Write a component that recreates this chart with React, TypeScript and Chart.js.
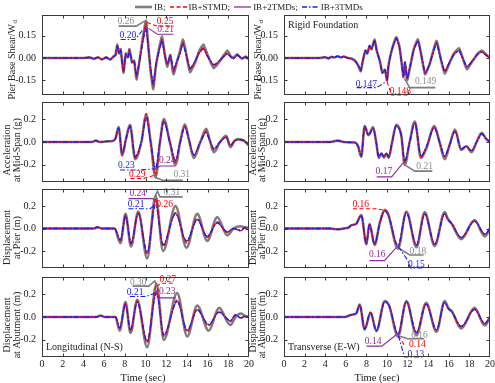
import React, { useEffect, useRef } from 'react';
import { Chart, registerables } from 'chart.js';
Chart.register(...registerables);

// ---------------- data ----------------
const SERIES_NAMES = ['IB', 'IB+STMD', 'IB+2TMDs', 'IB+3TMDs'];
const TIME_TICKS = [0, 2, 4, 6, 8, 10, 12, 14, 16, 18, 20];
const SHEAR_TICKS = [-0.15, 0, 0.15];
const RESP_TICKS = [-0.2, 0, 0.2];

// Longitudinal: pier base shear
const L1_T = [0, 4.0, 4.6, 5.0, 5.4, 5.8, 6.2, 6.6, 6.9, 7.1, 7.27, 7.45, 7.6, 7.87, 8.1, 8.3, 8.45, 8.7, 8.9, 9.13, 9.4, 9.75, 10.05, 10.3, 10.5, 10.75, 11.0, 11.3, 11.6, 11.85, 12.1, 12.4, 12.7, 13.1, 13.35, 13.6, 13.85, 14.3, 14.8, 15.2, 15.6, 16.0, 16.6, 17.2, 17.9, 18.2, 18.5, 18.86, 19.3, 19.7, 20];
const L1_IB = [0, 0, 0.004, -0.006, 0.005, -0.01, 0.004, -0.012, 0.01, 0.02, 0.09, 0.03, 0.06, -0.1, 0.03, 0.005, 0.06, -0.03, -0.02, -0.145, -0.03, 0.14, 0.25, 0.06, -0.09, -0.21, -0.06, 0.06, 0.145, 0.03, -0.06, 0.02, -0.11, -0.01, 0.05, 0.125, 0.06, -0.095, -0.03, 0.05, 0.09, 0.02, -0.07, -0.02, 0.05, 0.015, 0.0, 0.025, -0.005, 0.01, -0.01];
const L1_STMD = [0, 0, 0.003, -0.005, 0.004, -0.009, 0.004, -0.011, 0.009, 0.02, 0.085, 0.03, 0.055, -0.095, 0.03, 0.005, 0.055, -0.03, -0.02, -0.135, -0.03, 0.13, 0.24, 0.05, -0.09, -0.195, -0.05, 0.05, 0.13, 0.03, -0.05, 0.02, -0.095, -0.01, 0.04, 0.11, 0.05, -0.08, -0.025, 0.04, 0.07, 0.015, -0.055, -0.015, 0.035, 0.01, -0.005, 0.02, -0.005, 0.01, -0.01];
const L1_2TMD = [0, 0, 0.003, -0.005, 0.004, -0.008, 0.003, -0.01, 0.008, 0.018, 0.08, 0.03, 0.05, -0.09, 0.025, 0.005, 0.05, -0.03, -0.02, -0.125, -0.03, 0.12, 0.21, 0.05, -0.08, -0.18, -0.05, 0.05, 0.12, 0.025, -0.045, 0.015, -0.085, -0.01, 0.035, 0.1, 0.045, -0.075, -0.02, 0.035, 0.065, 0.01, -0.05, -0.015, 0.03, 0.01, -0.005, 0.02, -0.003, 0.008, -0.008];
const L1_3TMD = [0, 0, 0.003, -0.005, 0.004, -0.008, 0.003, -0.01, 0.008, 0.018, 0.08, 0.03, 0.05, -0.085, 0.025, 0.005, 0.05, -0.025, -0.02, -0.12, -0.025, 0.115, 0.2, 0.05, -0.075, -0.175, -0.045, 0.045, 0.115, 0.025, -0.04, 0.015, -0.08, -0.01, 0.035, 0.095, 0.045, -0.07, -0.02, 0.035, 0.06, 0.01, -0.045, -0.015, 0.03, 0.01, -0.005, 0.02, -0.003, 0.008, -0.008];

// Longitudinal: acceleration at mid-span
const L2_T = [0, 4.8, 5.2, 5.6, 6.2, 6.8, 7.1, 7.4, 7.75, 8.1, 8.5, 9.0, 9.6, 10.07, 10.5, 10.97, 11.4, 11.77, 12.35, 12.9, 13.35, 13.8, 14.2, 14.67, 15.3, 15.86, 16.2, 16.6, 17.2, 17.8, 18.2, 18.6, 19.0, 19.5, 20];
const L2_IB = [0, 0, 0.012, 0, 0.005, 0.008, 0.03, 0.13, -0.12, 0.02, 0.15, -0.15, 0.0, 0.24, 0.0, -0.31, 0.0, 0.2, 0.0, -0.2, 0.0, 0.155, 0.02, -0.14, 0.0, 0.115, 0.02, -0.09, 0.0, 0.055, -0.045, 0.01, 0.025, 0.01, -0.03];
const L2_STMD = [0, 0, 0.012, 0, 0.005, 0.008, 0.03, 0.125, -0.11, 0.02, 0.145, -0.14, 0.0, 0.25, 0.0, -0.29, 0.0, 0.19, 0.0, -0.18, 0.0, 0.14, 0.02, -0.12, 0.0, 0.095, 0.015, -0.07, 0.0, 0.045, -0.035, 0.01, 0.02, 0.015, -0.035];
const L2_2TMD = [0, 0, 0.012, 0, 0.005, 0.008, 0.03, 0.12, -0.1, 0.02, 0.14, -0.13, 0.0, 0.22, 0.0, -0.24, 0.0, 0.18, 0.0, -0.165, 0.0, 0.13, 0.02, -0.115, 0.0, 0.085, 0.015, -0.06, 0.0, 0.04, -0.03, 0.01, 0.02, 0.015, -0.03];
const L2_3TMD = [0, 0, 0.012, 0, 0.005, 0.008, 0.03, 0.12, -0.1, 0.02, 0.135, -0.125, 0.0, 0.21, 0.0, -0.23, 0.0, 0.18, 0.0, -0.16, 0.0, 0.125, 0.02, -0.11, 0.0, 0.08, 0.015, -0.055, 0.0, 0.04, -0.03, 0.01, 0.02, 0.015, -0.03];

// Longitudinal: displacement at pier
const L3_T = [0, 5.0, 5.35, 5.8, 6.5, 7.0, 7.58, 8.07, 8.6, 9.3, 10.16, 10.97, 11.7, 12.9, 13.96, 15.0, 15.96, 16.93, 17.9, 18.5, 19.2, 19.6, 20];
const L3_IB = [0, 0, 0.012, 0, 0, 0.0, -0.13, 0.13, -0.16, 0.15, -0.265, 0.29, -0.2, 0.2, -0.17, 0.13, -0.11, 0.1, -0.06, 0.0, 0.02, 0.01, 0.005];
const L3_STMD = [0, 0, 0.012, 0, 0, 0.0, -0.11, 0.12, -0.14, 0.14, -0.23, 0.26, -0.16, 0.14, -0.13, 0.09, -0.08, 0.06, -0.035, 0.0, -0.015, 0.01, 0.005];
const L3_2TMD = [0, 0, 0.012, 0, 0, 0.0, -0.105, 0.115, -0.135, 0.135, -0.22, 0.24, -0.15, 0.135, -0.115, 0.08, -0.07, 0.05, -0.03, 0.0, -0.02, 0.005, 0.005];
const L3_3TMD = [0, 0, 0.012, 0, 0, 0.0, -0.1, 0.11, -0.13, 0.13, -0.21, 0.21, -0.14, 0.13, -0.11, 0.075, -0.07, 0.05, -0.03, 0.0, -0.02, 0.005, 0.005];

// Longitudinal: displacement at abutment
const L4_T = [0, 5.2, 5.65, 6.1, 6.8, 7.1, 7.5, 8.07, 8.55, 9.2, 10.16, 11.06, 11.77, 13.06, 14.03, 15.0, 16.1, 17.1, 18.2, 18.7, 19.2, 19.6, 20];
const L4_IB = [0, 0, 0.012, 0, 0, 0.0, -0.12, 0.13, -0.14, 0.15, -0.265, 0.29, -0.2, 0.21, -0.17, 0.1, -0.12, 0.08, -0.07, 0.0, 0.03, 0.01, 0.0];
const L4_STMD = [0, 0, 0.012, 0, 0, 0.0, -0.1, 0.12, -0.12, 0.14, -0.22, 0.27, -0.17, 0.15, -0.13, 0.07, -0.075, 0.05, -0.04, 0.015, -0.005, 0.005, 0.0];
const L4_2TMD = [0, 0, 0.012, 0, 0, 0.0, -0.1, 0.115, -0.12, 0.135, -0.22, 0.23, -0.16, 0.14, -0.12, 0.065, -0.07, 0.045, -0.035, 0.02, -0.01, 0.005, 0.005];
const L4_3TMD = [0, 0, 0.012, 0, 0, 0.0, -0.095, 0.11, -0.115, 0.13, -0.21, 0.21, -0.155, 0.135, -0.115, 0.06, -0.065, 0.04, -0.03, 0.02, -0.01, 0.005, 0.005];

// Transverse: pier base shear (rigid foundation)
const R1_T = [0, 3.5, 4.0, 4.3, 4.6, 4.9, 5.2, 5.5, 5.8, 6.2, 6.6, 6.9, 7.2, 7.45, 7.65, 7.9, 8.1, 8.3, 8.5, 8.8, 9.0, 9.3, 9.55, 9.8, 10.0, 10.15, 10.45, 10.9, 11.2, 11.45, 11.6, 11.75, 11.95, 12.3, 12.6, 13.0, 13.3, 13.7, 14.1, 14.8, 15.2, 15.6, 16.1, 16.5, 17.0, 17.75, 18.3, 18.8, 19.2, 19.6, 20];
const R1_IB = [0, 0, 0.005, -0.003, 0.008, 0.003, 0.012, 0.004, 0.01, 0.0, -0.005, -0.02, -0.05, -0.09, -0.02, 0.05, 0.03, 0.08, 0.06, 0.125, 0.05, -0.02, -0.1, -0.08, -0.15, -0.05, 0.05, 0.14, 0.08, -0.05, -0.13, -0.03, -0.15, -0.04, 0.06, 0.125, 0.03, -0.11, -0.05, 0.115, 0.0, -0.105, -0.03, 0.03, 0.065, -0.075, -0.02, 0.03, 0.05, 0.025, 0.0];
const R1_STMD = [0, 0, 0.005, -0.003, 0.008, 0.003, 0.012, 0.004, 0.01, 0.0, -0.005, -0.02, -0.05, -0.085, -0.02, 0.05, 0.03, 0.08, 0.06, 0.12, 0.05, -0.02, -0.1, -0.08, -0.155, -0.05, 0.05, 0.135, 0.075, -0.05, -0.125, -0.03, -0.14, -0.04, 0.055, 0.115, 0.03, -0.1, -0.05, 0.105, 0.0, -0.095, -0.025, 0.025, 0.055, -0.06, -0.02, 0.025, 0.045, 0.02, 0.0];
const R1_2TMD = [0, 0, 0.005, -0.004, 0.008, 0.002, 0.012, 0.003, 0.01, -0.001, -0.006, -0.02, -0.05, -0.085, -0.02, 0.05, 0.03, 0.082, 0.06, 0.12, 0.05, -0.02, -0.1, -0.08, -0.15, -0.05, 0.05, 0.135, 0.075, -0.05, -0.125, -0.03, -0.14, -0.04, 0.055, 0.115, 0.03, -0.1, -0.05, 0.1, 0.0, -0.09, -0.025, 0.025, 0.05, -0.06, -0.02, 0.025, 0.04, 0.02, 0.0];
const R1_3TMD = [0, 0, 0.006, -0.004, 0.009, 0.002, 0.013, 0.003, 0.011, -0.002, -0.006, -0.02, -0.05, -0.085, -0.02, 0.05, 0.03, 0.085, 0.06, 0.12, 0.05, -0.02, -0.1, -0.08, -0.147, -0.05, 0.05, 0.135, 0.075, -0.05, -0.125, -0.03, -0.14, -0.04, 0.055, 0.115, 0.03, -0.1, -0.05, 0.1, 0.0, -0.09, -0.025, 0.025, 0.05, -0.06, -0.02, 0.025, 0.04, 0.02, 0.0];

// Transverse: acceleration at mid-span
const R2_T = [0, 4.5, 5.2, 5.8, 6.5, 6.9, 7.2, 7.5, 7.83, 8.2, 8.65, 8.95, 9.2, 9.45, 9.7, 9.95, 10.15, 10.5, 10.9, 11.2, 11.4, 11.72, 12.2, 12.7, 13.3, 13.8, 14.6, 15.1, 15.6, 16.1, 16.6, 17.2, 17.7, 18.2, 18.7, 19.2, 19.6, 20];
const R2_IB = [0, 0, 0.012, 0.0, -0.003, -0.005, -0.04, -0.13, 0.14, 0.06, 0.13, 0.0, -0.14, -0.1, -0.135, -0.1, -0.14, 0.0, 0.15, 0.12, 0.05, -0.2, 0.0, 0.18, -0.14, -0.06, 0.14, 0.0, -0.15, -0.02, 0.11, -0.07, -0.04, -0.09, 0.0, 0.08, 0.03, 0.0];
const R2_STMD = [0, 0, 0.012, 0.0, -0.003, -0.005, -0.04, -0.125, 0.14, 0.06, 0.125, 0.0, -0.135, -0.1, -0.13, -0.1, -0.135, 0.0, 0.145, 0.115, 0.05, -0.18, 0.0, 0.17, -0.13, -0.055, 0.13, 0.0, -0.13, -0.02, 0.1, -0.065, -0.035, -0.08, 0.0, 0.075, 0.03, 0.0];
const R2_2TMD = [0, 0, 0.012, 0.0, -0.003, -0.005, -0.04, -0.12, 0.135, 0.06, 0.12, 0.0, -0.13, -0.1, -0.13, -0.1, -0.13, 0.0, 0.14, 0.11, 0.05, -0.17, 0.0, 0.165, -0.125, -0.05, 0.125, 0.0, -0.125, -0.02, 0.095, -0.06, -0.035, -0.075, 0.0, 0.07, 0.03, 0.0];
const R2_3TMD = [0, 0, 0.012, 0.0, -0.003, -0.005, -0.04, -0.12, 0.135, 0.06, 0.12, 0.0, -0.13, -0.095, -0.13, -0.095, -0.13, 0.0, 0.14, 0.11, 0.05, -0.17, 0.0, 0.165, -0.125, -0.05, 0.12, 0.0, -0.12, -0.02, 0.09, -0.06, -0.035, -0.075, 0.0, 0.07, 0.03, 0.0];

// Transverse: displacement at pier
const R3_T = [0, 4.5, 5.2, 5.8, 6.3, 6.55, 7.0, 7.5, 8.0, 8.3, 8.8, 9.3, 9.78, 10.1, 11.07, 11.88, 12.86, 13.66, 14.63, 15.6, 15.9, 16.3, 17.2, 18.5, 19.5, 20];
const R3_IB = [0, 0, -0.008, 0.0, 0.01, 0.03, 0.04, 0.12, -0.14, 0.04, -0.145, 0.05, 0.165, 0.13, -0.18, 0.15, -0.165, 0.145, -0.155, 0.145, 0.09, 0.04, -0.095, 0.075, -0.07, 0.0];
const R3_STMD = [0, 0, -0.008, 0.0, 0.01, 0.03, 0.04, 0.115, -0.135, 0.04, -0.14, 0.05, 0.16, 0.13, -0.16, 0.14, -0.15, 0.13, -0.14, 0.13, 0.08, 0.04, -0.08, 0.065, -0.05, 0.0];
const R3_2TMD = [0, 0, -0.008, 0.0, 0.01, 0.03, 0.04, 0.115, -0.135, 0.04, -0.14, 0.05, 0.155, 0.125, -0.16, 0.14, -0.15, 0.13, -0.14, 0.13, 0.08, 0.04, -0.08, 0.065, -0.05, 0.0];
const R3_3TMD = [0, 0, -0.008, 0.0, 0.01, 0.03, 0.04, 0.115, -0.135, 0.04, -0.14, 0.05, 0.155, 0.125, -0.15, 0.14, -0.145, 0.13, -0.14, 0.13, 0.08, 0.04, -0.08, 0.065, -0.05, 0.0];

// Transverse: displacement at abutment
const R4_T = [0, 4.5, 5.9, 6.55, 7.0, 7.35, 7.83, 8.4, 8.97, 9.78, 10.2, 11.07, 11.88, 12.86, 13.8, 14.8, 15.6, 15.95, 16.3, 17.2, 18.5, 19.5, 20];
const R4_IB = [0, 0, 0.0, 0.02, 0.03, 0.11, -0.11, 0.04, -0.125, 0.14, 0.1, -0.17, 0.14, -0.16, 0.125, -0.13, 0.14, 0.08, 0.05, -0.1, 0.08, -0.075, 0.0];
const R4_STMD = [0, 0, 0.0, 0.02, 0.03, 0.105, -0.105, 0.04, -0.12, 0.135, 0.1, -0.155, 0.135, -0.14, 0.115, -0.115, 0.13, 0.075, 0.045, -0.085, 0.07, -0.06, 0.0];
const R4_2TMD = [0, 0, 0.0, 0.02, 0.03, 0.105, -0.105, 0.04, -0.12, 0.135, 0.1, -0.15, 0.13, -0.14, 0.115, -0.115, 0.13, 0.075, 0.045, -0.085, 0.07, -0.06, 0.0];
const R4_3TMD = [0, 0, 0.0, 0.02, 0.03, 0.105, -0.105, 0.04, -0.12, 0.13, 0.1, -0.15, 0.13, -0.135, 0.11, -0.11, 0.125, 0.07, 0.045, -0.08, 0.065, -0.055, 0.0];

// peak-value call-outs: text, series index, text anchor (time, value), leader polyline (time, value)
type Ann = { s: string; k: number; x: number; y: number; p: number[][] };
const ANN_L1: Ann[] = [
  { s: '0.26', k: 0, x: 8.1, y: 0.245, p: [[7.4, 0.215], [9.1, 0.215], [9.95, 0.25]] },
  { s: '0.25', k: 1, x: 11.9, y: 0.245, p: [[10.15, 0.24], [11.1, 0.215], [12.7, 0.215]] },
  { s: '0.20', k: 3, x: 8.3, y: 0.15, p: [[7.6, 0.125], [9.0, 0.125], [9.75, 0.19]] },
  { s: '0.21', k: 2, x: 11.95, y: 0.19, p: [[10.3, 0.2], [11.15, 0.16], [12.7, 0.16]] },
];
const ANN_L2: Ann[] = [
  { s: '0.23', k: 3, x: 8.15, y: -0.205, p: [[7.55, -0.245], [9.3, -0.245], [10.85, -0.235]] },
  { s: '0.29', k: 1, x: 9.2, y: -0.285, p: [[8.55, -0.32], [9.8, -0.32], [10.9, -0.29]] },
  { s: '0.24', k: 2, x: 12.1, y: -0.165, p: [[10.97, -0.24], [11.4, -0.21], [12.9, -0.21]] },
  { s: '0.31', k: 0, x: 13.5, y: -0.28, p: [[10.97, -0.31], [11.65, -0.335], [13.6, -0.335]] },
];
const ANN_L3: Ann[] = [
  { s: '0.24', k: 2, x: 9.25, y: 0.31, p: [[8.35, 0.265], [10.7, 0.265], [10.95, 0.24]] },
  { s: '0.31', k: 0, x: 12.55, y: 0.32, p: [[10.95, 0.29], [11.15, 0.33], [11.4, 0.28], [13.6, 0.28]] },
  { s: '0.21', k: 3, x: 9.1, y: 0.215, p: [[8.35, 0.175], [10.45, 0.175], [10.9, 0.21]] },
  { s: '0.26', k: 1, x: 11.85, y: 0.215, p: [[11.0, 0.26], [11.3, 0.2]] },
];
const ANN_L4: Ann[] = [
  { s: '0.30', k: 0, x: 9.3, y: 0.3, p: [[8.75, 0.27], [10.3, 0.27], [10.9, 0.315], [11.05, 0.29]] },
  { s: '0.27', k: 1, x: 12.15, y: 0.33, p: [[11.06, 0.27], [11.55, 0.295], [12.8, 0.295]] },
  { s: '0.21', k: 3, x: 9.0, y: 0.213, p: [[8.5, 0.18], [10.1, 0.18], [10.95, 0.21]] },
  { s: '0.23', k: 2, x: 12.1, y: 0.225, p: [[11.06, 0.23], [11.15, 0.167], [12.9, 0.167]] },
];
const ANN_R1: Ann[] = [
  { s: '0.147', k: 3, x: 8.0, y: -0.178, p: [[7.05, -0.2], [9.0, -0.2], [9.8, -0.165]] },
  { s: '0.148', k: 1, x: 11.3, y: -0.223, p: [[10.0, -0.16], [10.45, -0.25], [12.2, -0.25]] },
  { s: '0.149', k: 0, x: 13.75, y: -0.162, p: [[11.7, -0.14], [12.2, -0.2], [14.7, -0.2]] },
];
const ANN_R2: Ann[] = [
  { s: '0.17', k: 2, x: 9.7, y: -0.255, p: [[9.0, -0.305], [10.45, -0.305], [11.4, -0.2], [11.72, -0.17]] },
  { s: '0.21', k: 0, x: 13.65, y: -0.21, p: [[11.72, -0.2], [12.7, -0.255], [14.4, -0.255]] },
];
const ANN_R3: Ann[] = [
  { s: '0.16', k: 1, x: 7.45, y: 0.215, p: [[6.7, 0.175], [9.0, 0.175], [9.78, 0.16]] },
  { s: '0.16', k: 2, x: 9.05, y: -0.23, p: [[8.3, -0.285], [9.75, -0.285], [10.9, -0.17]] },
  { s: '0.18', k: 0, x: 13.0, y: -0.2, p: [[11.07, -0.17], [12.2, -0.235], [13.55, -0.235]] },
  { s: '0.15', k: 3, x: 12.85, y: -0.32, p: [[11.1, -0.16], [12.0, -0.28], [12.3, -0.35], [13.4, -0.35]] },
];
const ANN_R4: Ann[] = [
  { s: '0.14', k: 2, x: 8.65, y: -0.21, p: [[8.0, -0.255], [9.5, -0.255], [10.9, -0.155]] },
  { s: '0.16', k: 0, x: 13.15, y: -0.16, p: [[10.95, -0.16], [12.0, -0.19], [13.6, -0.19]] },
  { s: '0.14', k: 1, x: 12.95, y: -0.24, p: [[11.1, -0.165], [11.75, -0.255]] },
  { s: '0.13', k: 3, x: 12.8, y: -0.325, p: [[11.1, -0.165], [11.7, -0.35], [13.4, -0.35]] },
];

// ---------------- styling / layout ----------------
const SERIF = '"Liberation Serif", "Times New Roman", serif';
const STYLES = [
  { color: '#7d7d7d', text: '#8c8c8c', width: 2.6, dash: [] as number[], annW: 1.6, order: 4 },
  { color: '#ff0000', text: '#ff0000', width: 1.3, dash: [4, 2.5], annW: 1.1, order: 2 },
  { color: '#8e2aa0', text: '#8e2aa0', width: 1.3, dash: [] as number[], annW: 1.1, order: 3 },
  { color: '#1c1cf0', text: '#1c1cf0', width: 1.3, dash: [5, 2, 1.5, 2], annW: 1.1, order: 1 },
];

const COLS = [
  { cl: 0, cw: 258, pl: 42, pr: 249, titleX1: 12, titleX2: [7.5, 17], xTitleShift: -2.5 },
  { cl: 245, cw: 254, pl: 284, pr: 490, titleX1: 13, titleX2: [8.5, 17.5], xTitleShift: -10 },
];
const ROWS = [
  { pt: 15, pb: 95, titleShift: 5 },
  { pt: 102, pb: 182, titleShift: 8 },
  { pt: 189, pb: 268, titleShift: 9 },
  { pt: 277, pb: 357, titleShift: 8 },
];
const PAD = 14;

type Panel = {
  col: number; row: number; t: number[]; v: number[][]; min: number; max: number;
  ticks: number[]; dec: number; title: string[]; sub?: string; ann: Ann[]; smooth: boolean;
  label?: string; labelPos?: 'top' | 'bottom';
};

const PANELS: Panel[] = [
  { col: 0, row: 0, t: L1_T, v: [L1_IB, L1_STMD, L1_2TMD, L1_3TMD], min: -0.25, max: 0.29, ticks: SHEAR_TICKS, dec: 2, title: ['Pier Base Shear/W'], sub: 'd', ann: ANN_L1, smooth: false },
  { col: 0, row: 1, t: L2_T, v: [L2_IB, L2_STMD, L2_2TMD, L2_3TMD], min: -0.35, max: 0.35, ticks: RESP_TICKS, dec: 1, title: ['Acceleration', 'at Mid-Span (g)'], ann: ANN_L2, smooth: true },
  { col: 0, row: 2, t: L3_T, v: [L3_IB, L3_STMD, L3_2TMD, L3_3TMD], min: -0.35, max: 0.35, ticks: RESP_TICKS, dec: 1, title: ['Displacement', 'at Pier (m)'], ann: ANN_L3, smooth: true },
  { col: 0, row: 3, t: L4_T, v: [L4_IB, L4_STMD, L4_2TMD, L4_3TMD], min: -0.35, max: 0.35, ticks: RESP_TICKS, dec: 1, title: ['Displacement', 'at Abutment (m)'], ann: ANN_L4, smooth: true, label: 'Longitudinal (N-S)', labelPos: 'bottom' },
  { col: 1, row: 0, t: R1_T, v: [R1_IB, R1_STMD, R1_2TMD, R1_3TMD], min: -0.25, max: 0.29, ticks: SHEAR_TICKS, dec: 2, title: ['Pier Base Shear/W'], sub: 'd', ann: ANN_R1, smooth: false, label: 'Rigid Foundation', labelPos: 'top' },
  { col: 1, row: 1, t: R2_T, v: [R2_IB, R2_STMD, R2_2TMD, R2_3TMD], min: -0.35, max: 0.35, ticks: RESP_TICKS, dec: 1, title: ['Acceleration', 'at Mid-Span (g)'], ann: ANN_R2, smooth: true },
  { col: 1, row: 2, t: R3_T, v: [R3_IB, R3_STMD, R3_2TMD, R3_3TMD], min: -0.35, max: 0.35, ticks: RESP_TICKS, dec: 1, title: ['Displacement', 'at Pier (m)'], ann: ANN_R3, smooth: true },
  { col: 1, row: 3, t: R4_T, v: [R4_IB, R4_STMD, R4_2TMD, R4_3TMD], min: -0.35, max: 0.35, ticks: RESP_TICKS, dec: 1, title: ['Displacement', 'at Abutment (m)'], ann: ANN_R4, smooth: true, label: 'Transverse (E-W)', labelPos: 'bottom' },
];

function geom(p: Panel) {
  const c = COLS[p.col];
  const r = ROWS[p.row];
  const xh = p.row === 3 ? 26 : PAD;
  return {
    left: c.cl, top: r.pt - PAD, w: c.cw, h: r.pb - r.pt + PAD + xh,
    yw: c.pl - c.cl, padRight: c.cw - (c.pr - c.cl), xh,
  };
}

function decorPlugin(p: Panel) {
  const c = COLS[p.col];
  const r = ROWS[p.row];
  return {
    id: 'panelDecor',
    afterDatasetsDraw(chart: any) {
      const ctx = chart.ctx;
      const xs = chart.scales.x;
      const ys = chart.scales.y;
      for (const a of p.ann) {
        const st = STYLES[a.k];
        ctx.save();
        ctx.strokeStyle = st.color;
        ctx.lineWidth = st.annW;
        ctx.setLineDash(st.dash);
        ctx.beginPath();
        a.p.forEach(([t, v], i) => {
          const X = xs.getPixelForValue(t);
          const Y = ys.getPixelForValue(v);
          if (i) ctx.lineTo(X, Y); else ctx.moveTo(X, Y);
        });
        ctx.stroke();
        ctx.setLineDash([]);
        ctx.fillStyle = st.text;
        ctx.font = `9.5px ${SERIF}`;
        ctx.textAlign = 'center';
        ctx.textBaseline = 'middle';
        ctx.fillText(a.s, xs.getPixelForValue(a.x), ys.getPixelForValue(a.y));
        ctx.restore();
      }
    },
    afterDraw(chart: any) {
      const ctx = chart.ctx;
      const ca = chart.chartArea;
      const xs = chart.scales.x;
      const ys = chart.scales.y;
      ctx.save();
      ctx.strokeStyle = '#3a3a3a';
      ctx.lineWidth = 1;
      ctx.strokeRect(ca.left + 0.5, ca.top + 0.5, ca.right - ca.left - 1, ca.bottom - ca.top - 1);
      ctx.beginPath();
      TIME_TICKS.slice(1, -1).forEach((v) => {
        const X = Math.round(xs.getPixelForValue(v)) + 0.5;
        ctx.moveTo(X, ca.bottom); ctx.lineTo(X, ca.bottom - 3.5);
        ctx.moveTo(X, ca.top); ctx.lineTo(X, ca.top + 3.5);
      });
      p.ticks.forEach((v) => {
        const Y = Math.round(ys.getPixelForValue(v)) + 0.5;
        ctx.moveTo(ca.left, Y); ctx.lineTo(ca.left + 3.5, Y);
        ctx.moveTo(ca.right, Y); ctx.lineTo(ca.right - 3.5, Y);
      });
      ctx.stroke();
      ctx.fillStyle = '#222';
      const cy = (ca.top + ca.bottom) / 2 + r.titleShift;
      const xsPos = p.title.length === 1 ? [c.titleX1] : c.titleX2;
      p.title.forEach((line, i) => {
        ctx.save();
        ctx.translate(xsPos[i], cy);
        ctx.rotate(-Math.PI / 2);
        ctx.textBaseline = 'middle';
        ctx.textAlign = 'left';
        ctx.font = `10px ${SERIF}`;
        const w = ctx.measureText(line).width;
        let ws = 0;
        if (p.sub) {
          ctx.font = `7px ${SERIF}`;
          ws = ctx.measureText(p.sub).width;
        }
        const start = -(w + ws) / 2;
        ctx.font = `10px ${SERIF}`;
        ctx.fillText(line, start, 0);
        if (p.sub) {
          ctx.font = `7px ${SERIF}`;
          ctx.fillText(p.sub, start + w + 0.5, 3);
        }
        ctx.restore();
      });
      if (p.row === 3) {
        ctx.font = `10.5px ${SERIF}`;
        ctx.textAlign = 'center';
        ctx.textBaseline = 'middle';
        ctx.fillText('Time (sec)', (ca.left + ca.right) / 2 + c.xTitleShift, ca.bottom + 21);
      }
      if (p.label) {
        ctx.font = `10px ${SERIF}`;
        ctx.textAlign = 'left';
        ctx.textBaseline = 'middle';
        ctx.fillText(p.label, ca.left + 4, p.labelPos === 'top' ? ca.top + 10 : ca.bottom - 10);
      }
      ctx.restore();
    },
  };
}

function PanelChart({ p }: { p: Panel }) {
  const ref = useRef<HTMLCanvasElement | null>(null);
  const g = geom(p);
  useEffect(() => {
    if (!ref.current) return;
    const chart = new Chart(ref.current, {
      type: 'line',
      data: {
        datasets: p.v.map((vals, k) => ({
          label: SERIES_NAMES[k],
          data: p.t.map((x, i) => ({ x, y: vals[i] })),
          borderColor: STYLES[k].color,
          borderWidth: STYLES[k].width,
          borderDash: STYLES[k].dash,
          borderJoinStyle: 'round' as const,
          pointRadius: 0,
          fill: false,
          order: STYLES[k].order,
          tension: p.smooth ? 0.4 : 0.15,
          cubicInterpolationMode: p.smooth ? ('monotone' as const) : ('default' as const),
        })),
      },
      options: {
        responsive: false,
        maintainAspectRatio: false,
        animation: false,
        devicePixelRatio: 1,
        events: [],
        layout: { padding: { top: PAD, right: g.padRight, left: 0, bottom: 0 } },
        plugins: { legend: { display: false }, tooltip: { enabled: false } },
        scales: {
          x: {
            type: 'linear', min: 0, max: 20,
            grid: { display: false, drawTicks: false },
            border: { display: false },
            afterBuildTicks: (s: any) => { s.ticks = TIME_TICKS.map((v) => ({ value: v })); },
            afterFit: (s: any) => { s.height = g.xh; },
            ticks: {
              display: p.row === 3, autoSkip: false, maxRotation: 0, padding: 1,
              color: '#222', font: { family: SERIF, size: 10 },
              callback: (v: any) => String(v),
            },
          },
          y: {
            type: 'linear', min: p.min, max: p.max,
            grid: { display: false, drawTicks: false },
            border: { display: false },
            afterBuildTicks: (s: any) => { s.ticks = p.ticks.map((v) => ({ value: v })); },
            afterFit: (s: any) => { s.width = g.yw; },
            ticks: {
              padding: 6, color: '#222', font: { family: SERIF, size: 10 },
              callback: (v: any) => Number(v).toFixed(p.dec),
            },
          },
        },
      },
      plugins: [decorPlugin(p)],
    } as any);
    return () => chart.destroy();
  }, []);
  return (
    <canvas
      ref={ref}
      width={g.w}
      height={g.h}
      style={{ position: 'absolute', left: g.left, top: g.top, width: g.w, height: g.h }}
    />
  );
}

function LegendSample({ k }: { k: number }) {
  const st = STYLES[k];
  return (
    <svg width={17} height={6} style={{ display: 'block' }}>
      <line x1={0} y1={3} x2={17} y2={3} stroke={st.color} strokeWidth={st.width}
        strokeDasharray={st.dash.length ? st.dash.join(' ') : undefined} />
    </svg>
  );
}

export default function App() {
  return (
    <div style={{ position: 'absolute', left: 0, top: 0, width: 495, height: 383, overflow: 'hidden', background: '#fff' }}>
      {PANELS.map((p, i) => <PanelChart key={i} p={p} />)}
      <div style={{ position: 'absolute', left: 135, top: 0, height: 13, display: 'flex', alignItems: 'center', fontFamily: SERIF, fontSize: 9, color: '#222', whiteSpace: 'nowrap' }}>
        {SERIES_NAMES.map((n, k) => (
          <div key={k} style={{ display: 'flex', alignItems: 'center', marginRight: 4 }}>
            <LegendSample k={k} />
            <span style={{ marginLeft: 2 }}>{n}{k < 3 ? ';' : ''}</span>
          </div>
        ))}
      </div>
    </div>
  );
}
